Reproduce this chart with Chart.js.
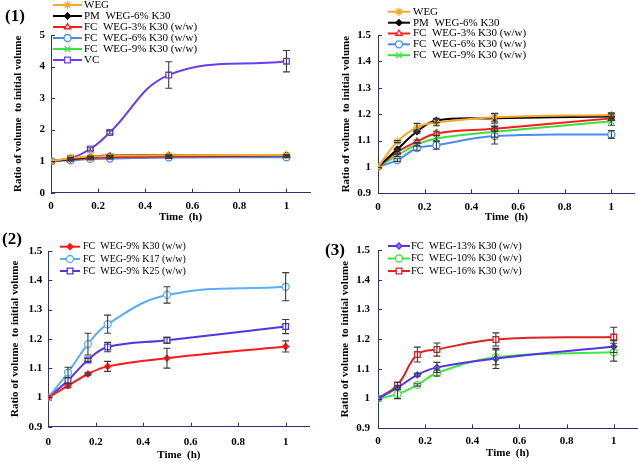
<!DOCTYPE html>
<html><head><meta charset="utf-8">
<script src="https://cdn.jsdelivr.net/npm/chart.js@4/dist/chart.umd.min.js"></script>
<style>
html,body{margin:0;padding:0;background:#fff;}
#wrap{position:relative;width:638px;height:462px;overflow:hidden;background:#fff;}
canvas{position:absolute;}
.pl{position:absolute;font:bold 17px "Liberation Serif","Times New Roman",serif;line-height:18px;color:#000;}
</style></head><body>
<div id="wrap">
<canvas id="c1" width="318" height="230" style="left:0;top:0;width:318px;height:230px"></canvas>
<canvas id="c2" width="320" height="230" style="left:318px;top:0;width:320px;height:230px"></canvas>
<canvas id="c3" width="318" height="232" style="left:0;top:230px;width:318px;height:232px"></canvas>
<canvas id="c4" width="320" height="232" style="left:318px;top:230px;width:320px;height:232px"></canvas>
<div class="pl" style="left:5px;top:7px">(1)</div>
<div class="pl" style="left:2px;top:230px">(2)</div>
<div class="pl" style="left:325px;top:241px">(3)</div>
</div>
<script>
// ---- data ----
const time = [0, 0.083, 0.167, 0.25, 0.5, 1];
const xTicks = [0, 0.2, 0.4, 0.6, 0.8, 1];
const yTicksBig = [0, 0.5, 1, 1.5, 2, 2.5, 3, 3.5, 4, 4.5, 5];
const yTicksSmall = [0.9, 1, 1.1, 1.2, 1.3, 1.4, 1.5];

// panel (1) / top-right
const legend1 = ['WEG', 'PM  WEG-6% K30', 'FC  WEG-3% K30 (w/w)', 'FC  WEG-6% K30 (w/w)', 'FC  WEG-9% K30 (w/w)', 'VC'];
const weg = [1, 1.096, 1.15, 1.168, 1.188, 1.197];
const wegErr = [0, 0.004, 0.015, 0.012, 0.015, 0.008];
const pm = [1, 1.067, 1.134, 1.176, 1.184, 1.191];
const pmErr = [0, 0.004, 0.006, 0.008, 0.018, 0.01];
const fc3 = [1, 1.057, 1.096, 1.127, 1.145, 1.184];
const fc3Err = [0, 0.004, 0.006, 0.008, 0.01, 0.008];
const fc6 = [1, 1.026, 1.071, 1.082, 1.117, 1.123];
const fc6Err = [0, 0.005, 0.008, 0.015, 0.03, 0.015];
const fc9 = [1, 1.044, 1.085, 1.108, 1.133, 1.173];
const fc9Err = [0, 0.004, 0.006, 0.01, 0.02, 0.015];
const vc = [1, 1.09, 1.385, 1.91, 3.73, 4.17];
const vcErr = [0, 0.03, 0.04, 0.05, 0.42, 0.34];

// panel (2)
const legend2 = ['FC  WEG-9% K30 (w/w)', 'FC  WEG-9% K17 (w/w)', 'FC  WEG-9% K25 (w/w)'];
const k30 = [1, 1.04, 1.08, 1.106, 1.134, 1.174];
const k30Err = [0, 0.007, 0.004, 0.017, 0.034, 0.019];
const k17 = [1, 1.085, 1.182, 1.25, 1.35, 1.378];
const k17Err = [0, 0.018, 0.037, 0.031, 0.028, 0.048];
const k25 = [1, 1.058, 1.128, 1.172, 1.195, 1.242];
const k25Err = [0, 0.01, 0.005, 0.016, 0.01, 0.024];

// panel (3)
const legend3 = ['FC  WEG-13% K30 (w/v)', 'FC  WEG-10% K30 (w/v)', 'FC  WEG-16% K30 (w/v)'];
const c13 = [1, 1.037, 1.08, 1.105, 1.135, 1.175];
const c13Err = [0, 0.006, 0.005, 0.017, 0.034, 0.02];
const c10 = [1, 1.015, 1.046, 1.086, 1.139, 1.156];
const c10Err = [0, 0.015, 0.004, 0.01, 0.025, 0.03];
const c16 = [1, 1.046, 1.148, 1.165, 1.199, 1.207];
const c16Err = [0, 0.008, 0.025, 0.022, 0.022, 0.033];

// ---- helpers ----
const SERIF = '"Liberation Serif","Times New Roman",serif';
const AXIS = '#27356b';
function pts(ys) { return time.map((t, i) => ({ x: t, y: ys[i] })); }
function ds(label, ys, err, color, style, radius, fill) {
  return {
    label, data: pts(ys), errors: err,
    borderColor: color, backgroundColor: color,
    pointStyle: style, pointRadius: radius,
    pointBorderColor: color, pointBackgroundColor: fill || color,
    pointBorderWidth: 1.3, borderWidth: 2, tension: 0.4, fill: false
  };
}
function fmt(v) { return String(Math.round(v * 100) / 100); }

const errPlugin = {
  id: 'errbars',
  afterDatasetsDraw(chart) {
    const ctx = chart.ctx, ys = chart.scales.y;
    ctx.save();
    ctx.strokeStyle = '#3a3a3a';
    ctx.lineWidth = 1.1;
    chart.data.datasets.forEach((d, di) => {
      if (!d.errors) return;
      const meta = chart.getDatasetMeta(di);
      meta.data.forEach((p, i) => {
        const e = d.errors[i];
        if (!e) return;
        const v = d.data[i].y;
        const y1 = ys.getPixelForValue(v + e), y2 = ys.getPixelForValue(v - e);
        const x = p.x;
        ctx.beginPath();
        ctx.moveTo(x, y1); ctx.lineTo(x, y2);
        ctx.moveTo(x - 3.5, y1); ctx.lineTo(x + 3.5, y1);
        ctx.moveTo(x - 3.5, y2); ctx.lineTo(x + 3.5, y2);
        ctx.stroke();
      });
    });
    ctx.restore();
  }
};
const innerTicks = {
  id: 'innerTicks',
  afterDraw(chart) {
    const { x, y } = chart.scales, ctx = chart.ctx;
    ctx.save();
    ctx.strokeStyle = AXIS; ctx.lineWidth = 1;
    ctx.beginPath();
    y.ticks.forEach(t => {
      const py = Math.round(y.getPixelForValue(t.value)) + 0.5;
      ctx.moveTo(y.right, py); ctx.lineTo(y.right + 4, py);
    });
    x.ticks.forEach(t => {
      if (t.value === 0) return;
      const px = Math.round(x.getPixelForValue(t.value)) + 0.5;
      ctx.moveTo(px, x.top); ctx.lineTo(px, x.top - 4);
    });
    ctx.stroke();
    ctx.restore();
  }
};
const lineLegend = {
  id: 'lineLegend',
  afterDraw(chart, args, opts) {
    const ctx = chart.ctx;
    ctx.save();
    chart.data.datasets.forEach((d, i) => {
      const y = opts.ys[i];
      ctx.strokeStyle = d.borderColor; ctx.lineWidth = d.borderWidth;
      ctx.beginPath(); ctx.moveTo(opts.x1, y); ctx.lineTo(opts.x2, y); ctx.stroke();
      ctx.fillStyle = d.pointBackgroundColor; ctx.strokeStyle = d.pointBorderColor;
      ctx.lineWidth = d.pointBorderWidth;
      Chart.helpers.drawPoint(ctx, { pointStyle: d.pointStyle, radius: d.pointRadius, borderWidth: d.pointBorderWidth, rotation: 0 }, (opts.x1 + opts.x2) / 2, y);
      ctx.fillStyle = '#000'; ctx.font = opts.font;
      ctx.textBaseline = 'middle'; ctx.textAlign = 'left';
      ctx.fillText(d.label, opts.tx, y);
    });
    ctx.restore();
  }
};

function makeChart(id, datasets, c) {
  const tickFont = { family: SERIF, size: 11, weight: 'bold' };
  return new Chart(document.getElementById(id), {
    type: 'line',
    data: { datasets },
    options: {
      responsive: false, animation: false, devicePixelRatio: 1,
      layout: { autoPadding: false, padding: { top: c.top, right: c.right, left: 0, bottom: 0 } },
      plugins: { legend: { display: false }, tooltip: { enabled: false }, lineLegend: c.legend },
      scales: {
        x: {
          type: 'linear', min: 0, max: 1.1,
          afterBuildTicks(s) { s.ticks = xTicks.map(v => ({ value: v })); },
          afterFit(s) { s.height = c.xh; },
          grid: { display: false, drawTicks: false },
          border: { display: true, color: AXIS, width: 1 },
          ticks: { padding: c.xpad, color: '#000', font: tickFont, callback: v => fmt(v) },
          title: { display: true, text: 'Time  (h)', color: '#000', font: tickFont, padding: { top: 0, bottom: c.xtb } }
        },
        y: {
          type: 'linear', min: c.ymin, max: c.ymax,
          afterBuildTicks(s) { s.ticks = c.yTicks.map(v => ({ value: v })); },
          afterFit(s) { s.width = c.yw; },
          grid: { display: false, drawTicks: false },
          border: { display: true, color: AXIS, width: 1 },
          ticks: { padding: c.ypad, color: '#000', font: tickFont, callback: v => fmt(v) },
          title: { display: true, text: 'Ratio of volume  to initial volume', color: '#000', font: tickFont, padding: { top: c.ytt, bottom: 0 } }
        }
      }
    },
    plugins: [errPlugin, innerTicks, lineLegend]
  });
}

const ORANGE = '#f4a928', BLACK = '#000000', RED = '#ff1a1a', BLUE = '#4a8cf0', GREEN = '#3ee03e', VIOLET = '#6a3cf0';

function groupA() {
  return [
    ds(legend1[0], weg, wegErr, ORANGE, 'star', 4, ORANGE),
    ds(legend1[1], pm, pmErr, BLACK, 'rectRot', 3, BLACK),
    ds(legend1[2], fc3, fc3Err, RED, 'triangle', 3.5, '#ffffff'),
    ds(legend1[3], fc6, fc6Err, BLUE, 'circle', 3.5, '#ffffff'),
    ds(legend1[4], fc9, fc9Err, GREEN, 'crossRot', 4, GREEN)
  ];
}

makeChart('c1', groupA().concat([ds(legend1[5], vc, vcErr, VIOLET, 'rect', 4, '#ffffff')]), {
  top: 35, right: 8, xh: 37.3, yw: 51, ymin: 0, ymax: 5, yTicks: yTicksBig,
  xpad: 6.7, xtb: 6.7, ypad: 6, ytt: 11.4,
  legend: { x1: 53, x2: 82, tx: 84, ys: [5, 16, 27, 38, 49, 60], font: '11px ' + SERIF }
});
makeChart('c2', groupA(), {
  top: 35, right: 3.3, xh: 36.7, yw: 60, ymin: 0.9, ymax: 1.5, yTicks: yTicksSmall,
  xpad: 6.8, xtb: 6.7, ypad: 7, ytt: 21.4,
  legend: { x1: 70, x2: 92, tx: 95, ys: [11.7, 22.7, 33.5, 44.3, 55.2], font: '11px ' + SERIF }
});
makeChart('c3', [
  ds(legend2[0], k30, k30Err, '#ff1a1a', 'rectRot', 3, '#ff1a1a'),
  ds(legend2[1], k17, k17Err, '#5aaef5', 'circle', 3.5, '#ffffff'),
  ds(legend2[2], k25, k25Err, '#5533e0', 'rect', 4, '#ffffff')
], {
  top: 21, right: 8.6, xh: 35.3, yw: 48.3, ymin: 0.9, ymax: 1.5, yTicks: yTicksSmall,
  xpad: 8.4, xtb: 0.4, ypad: 6, ytt: 8.4,
  legend: { x1: 60, x2: 80, tx: 83, ys: [16.7, 29, 41], font: '10px ' + SERIF }
});
makeChart('c4', [
  ds(legend3[0], c13, c13Err, '#5533ee', 'rectRot', 3, '#8f7cf5'),
  ds(legend3[1], c10, c10Err, '#3ee83e', 'circle', 3.5, '#ffffff'),
  ds(legend3[2], c16, c16Err, '#d82424', 'rect', 4, '#ffffff')
], {
  top: 20, right: 0.7, xh: 33.7, yw: 60, ymin: 0.9, ymax: 1.5, yTicks: yTicksSmall,
  xpad: 5.8, xtb: 2.7, ypad: 8, ytt: 20.1,
  legend: { x1: 70, x2: 92, tx: 93, ys: [16, 28.5, 41], font: '10.5px ' + SERIF }
});
</script>
</body></html>
